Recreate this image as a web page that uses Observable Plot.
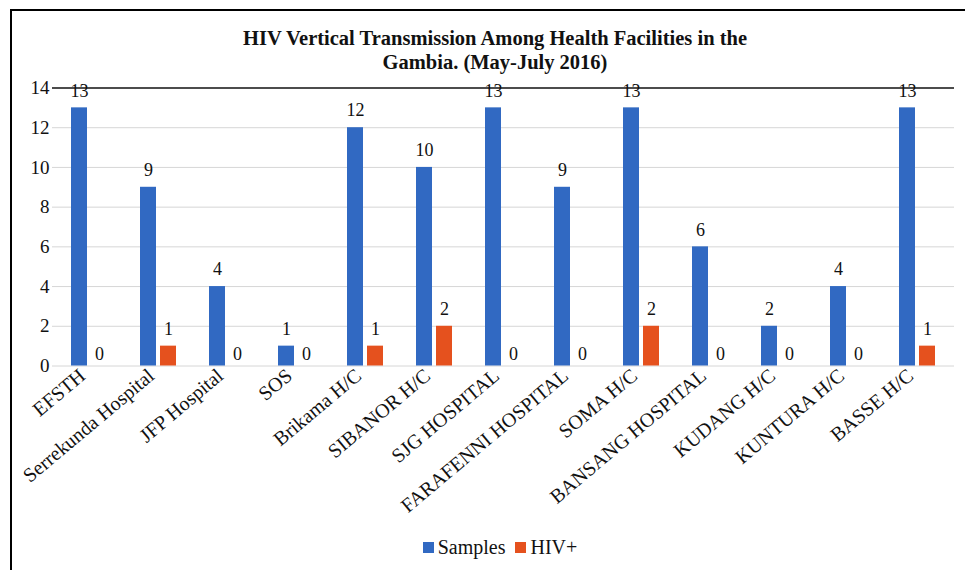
<!DOCTYPE html>
<html>
<head>
<meta charset="utf-8">
<script src="https://cdn.jsdelivr.net/npm/d3@7"></script>
<script src="https://cdn.jsdelivr.net/npm/@observablehq/plot@0.6"></script>
<style>
  html, body { margin: 0; padding: 0; background: #fff; width: 965px; height: 570px; overflow: hidden; }
  #frame { position: absolute; left: 10px; top: 9px; width: 1000px; height: 600px; border-left: 2px solid #000; border-top: 2px solid #000; }
  #title { position: absolute; left: 0; top: 26px; width: 990px; text-align: center; font-family: 'Liberation Serif', serif; font-weight: bold; font-size: 20.5px; line-height: 24px; color: #111; }
  #chart { position: absolute; left: 0; top: 74px; }
  #chart svg text { font-family: 'Liberation Serif', serif; }
  #legend { position: absolute; left: 0; top: 536px; width: 1000px; display: flex; justify-content: center; align-items: center; font-family: 'Liberation Serif', serif; font-size: 20px; color: #111; }
  .sw { display: inline-block; width: 11px; height: 11px; margin-right: 4px; }
  .item { display: inline-flex; align-items: center; margin: 0 5px; }
</style>
</head>
<body>
<div id="frame"></div>
<div id="title">HIV Vertical Transmission Among Health Facilities in the<br>Gambia. (May-July 2016)</div>
<div id="chart"></div>
<div id="legend"></div>
<script>
const facilities = ["EFSTH", "Serrekunda Hospital", "JFP Hospital", "SOS", "Brikama H/C", "SIBANOR H/C", "SJG HOSPITAL", "FARAFENNI HOSPITAL", "SOMA H/C", "BANSANG HOSPITAL", "KUDANG H/C", "KUNTURA H/C", "BASSE H/C"];
const samples = [13, 9, 4, 1, 12, 10, 13, 9, 13, 6, 2, 4, 13];
const hivPositive = [0, 1, 0, 0, 1, 2, 0, 0, 2, 0, 0, 0, 1];
const seriesNames = ["Samples", "HIV+"];
const seriesColors = ["#3169c2", "#e5511e"];
const yTicks = [0, 2, 4, 6, 8, 10, 12, 14];

const data = facilities.map((f, i) => ({facility: f, samples: samples[i], hiv: hivPositive[i]}));
const gridTicks = yTicks.filter(t => t < 14);
const topTick = yTicks.filter(t => t === 14);

const labelStyle = {fontSize: 18, fill: "#111"};
const chart = Plot.plot({
  width: 965,
  height: 456,
  marginLeft: 52,
  marginRight: 11,
  marginTop: 13.5,
  marginBottom: 164.5,
  style: {fontFamily: "'Liberation Serif', serif", fontSize: "18px", color: "#111", background: "transparent"},
  x: {domain: facilities, paddingInner: 0.769, paddingOuter: 0.3845, label: null},
  y: {domain: [0, 14], label: null},
  marks: [
    Plot.ruleY(gridTicks, {stroke: "#d6d6d6", strokeWidth: 1}),
    Plot.ruleY(topTick, {stroke: "#111", strokeWidth: 1.5}),
    Plot.barY(data, {x: "facility", y: "samples", fill: seriesColors[0], dx: -10}),
    Plot.barY(data, {x: "facility", y: "hiv", fill: seriesColors[1], dx: 10}),
    Plot.text(data, {filter: d => d.samples > 0, x: "facility", y: "samples", text: d => String(d.samples), dx: -10, dy: -17, ...labelStyle}),
    Plot.text(data, {filter: d => d.hiv > 0, x: "facility", y: "hiv", text: d => String(d.hiv), dx: 10, dy: -17, ...labelStyle}),
    Plot.text(data, {filter: d => d.hiv === 0, x: "facility", y: "hiv", text: d => String(d.hiv), dx: 10, dy: -12, ...labelStyle}),
    Plot.axisY({ticks: yTicks, tickSize: 0, tickPadding: 3, label: null, fontSize: 19}),
    Plot.axisX({tickRotate: -40, tickSize: 0, tickPadding: 7, dx: -7, label: null, fontSize: 20})
  ]
});
document.getElementById("chart").appendChild(chart);

const legend = document.getElementById("legend");
seriesNames.forEach((name, i) => {
  const item = document.createElement("span");
  item.className = "item";
  const sw = document.createElement("span");
  sw.className = "sw";
  sw.style.background = seriesColors[i];
  item.appendChild(sw);
  item.appendChild(document.createTextNode(name));
  legend.appendChild(item);
});
</script>
</body>
</html>
